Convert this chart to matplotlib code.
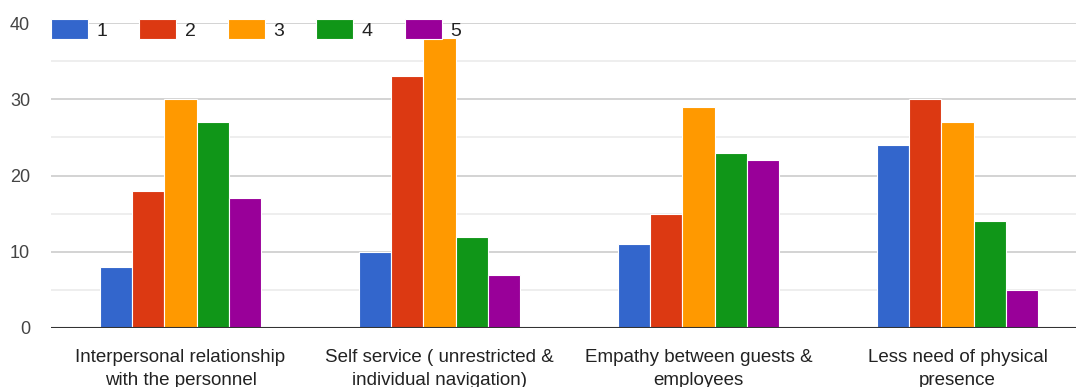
import numpy as np
from matplotlib import pyplot as plt

categories = ['Interpersonal relationship\nwith the personnel',
              'Self service ( unrestricted &\nindividual navigation)',
              'Empathy between guests &\nemployees',
              'Less need of physical\npresence']
ratings = ['1', '2', '3', '4', '5']
counts = [
    [8, 10, 11, 24],    # 1
    [18, 33, 15, 30],   # 2
    [30, 38, 29, 27],   # 3
    [27, 12, 23, 14],   # 4
    [17, 7, 22, 5],     # 5
]
colors = ['#3366cc', '#dc3912', '#ff9900', '#109618', '#990099']

plt.rcParams['font.family'] = ['Liberation Sans', 'DejaVu Sans']

W, H = 1076, 387
fig = plt.figure(figsize=(W/100, H/100), dpi=100)
# plot area in pixels: x 51..1087 (runs past the right edge), y 23..328
ax = fig.add_axes([51/W, (H-328)/H, (1087-51)/W, (328-23)/H])

x = np.arange(len(categories))
bw = 0.1245
for i, (r, vals) in enumerate(zip(ratings, counts)):
    ax.bar(x + (i - 2)*bw, vals, width=bw, color=colors[i], label=r,
           edgecolor='white', linewidth=0.8, zorder=3)

ax.set_xlim(-0.5, len(categories) - 0.5)
ax.set_ylim(0, 40)
ax.set_yticks([0, 10, 20, 30, 40])
ax.set_yticks([5, 15, 25, 35], minor=True)
ax.grid(axis='y', which='major', color='#cccccc', linewidth=1.2, zorder=0)
ax.grid(axis='y', which='minor', color='#ebebeb', linewidth=1.2, zorder=0)
ax.axhline(0, color='#333333', linewidth=1.5, zorder=4)

for s in ax.spines.values():
    s.set_visible(False)
ax.tick_params(axis='both', which='both', length=0)
ax.tick_params(axis='y', labelsize=13, labelcolor='#444444', pad=15)
ax.set_xticks(x)
ax.set_xticklabels(categories, fontsize=13.5, color='#222222', linespacing=1.45)
ax.tick_params(axis='x', pad=15)

leg = ax.legend(loc='upper left', bbox_to_anchor=(0, 1.012), ncol=5, frameon=False,
                fontsize=14, handlelength=1.9, handleheight=1.15,
                handletextpad=0.42, columnspacing=1.67, borderaxespad=0, borderpad=0)
for t in leg.get_texts():
    t.set_color('#222222')

fig.savefig('out.png', dpi=100)
